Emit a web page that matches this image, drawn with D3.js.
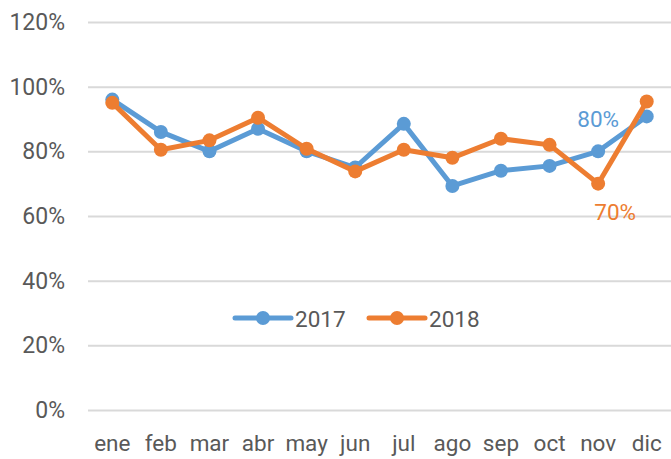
<!DOCTYPE html>
<html>
<head>
<meta charset="utf-8">
<script src="https://cdn.jsdelivr.net/npm/d3@7"></script>
<style>
  body { margin: 0; background: #fff; }
  text { font-family: Roboto, sans-serif; fill: #595959; }
</style>
</head>
<body>
<div id="chart"></div>
<script>
var months = ["ene", "feb", "mar", "abr", "may", "jun", "jul", "ago", "sep", "oct", "nov", "dic"];
var values2017 = [96, 86, 80, 87, 80, 75, 88.5, 69.3, 74, 75.5, 80, 90.8];
var values2018 = [95, 80.5, 83.4, 90.4, 80.8, 73.8, 80.5, 78, 83.9, 82, 70, 95.4];
var yTicks = [0, 20, 40, 60, 80, 100, 120];
var seriesNames = ["2017", "2018"];
var colors = ["#5B9BD5", "#ED7D31"];

var width = 671, height = 459;
var margin = { top: 22, right: 0, bottom: 49, left: 88 };

var svg = d3.select("#chart").append("svg")
    .attr("width", width).attr("height", height);

var x = d3.scaleBand().domain(months)
    .range([margin.left, width - margin.right]);

var y = d3.scaleLinear().domain([0, 120])
    .range([height - margin.bottom, margin.top]);

// gridlines + y labels
var yAxis = d3.axisLeft(y).tickValues(yTicks)
    .tickSize(-(width - margin.left - margin.right))
    .tickPadding(23)
    .tickFormat(function(d) { return d + "%"; });

svg.append("g").attr("transform", "translate(" + margin.left + ",0)")
    .call(yAxis)
    .call(function(g) { g.select(".domain").remove(); })
    .call(function(g) {
        g.selectAll("line").attr("stroke", "#D9D9D9").attr("stroke-width", 2);
        g.selectAll("text").style("font-size", "23px").attr("fill", "#595959");
    });

// x labels
svg.append("g").selectAll("text").data(months).enter().append("text")
    .attr("x", function(d) { return x(d) + x.bandwidth() / 2; })
    .attr("y", 451)
    .attr("text-anchor", "middle")
    .style("font-size", "22.5px")
    .text(function(d) { return d; });

var line = d3.line()
    .x(function(d, i) { return x(months[i]) + x.bandwidth() / 2; })
    .y(function(d) { return y(d); });

[values2017, values2018].forEach(function(vals, s) {
    svg.append("path").datum(vals)
        .attr("fill", "none")
        .attr("stroke", colors[s])
        .attr("stroke-width", 5)
        .attr("stroke-linejoin", "round")
        .attr("d", line);
    svg.append("g").selectAll("circle").data(vals).enter().append("circle")
        .attr("cx", function(d, i) { return x(months[i]) + x.bandwidth() / 2; })
        .attr("cy", function(d) { return y(d); })
        .attr("r", 7)
        .attr("fill", colors[s]);
});

// data labels on nov
var nov = x("nov") + x.bandwidth() / 2;
svg.append("text")
    .attr("x", nov).attr("y", y(values2017[10]) - 24)
    .attr("text-anchor", "middle")
    .style("font-size", "22.5px").style("fill", colors[0])
    .text(Math.round(values2017[10]) + "%");
svg.append("text")
    .attr("x", nov + 17).attr("y", y(values2018[10]) + 36)
    .attr("text-anchor", "middle")
    .style("font-size", "22.5px").style("fill", colors[1])
    .text(Math.round(values2018[10]) + "%");

// legend
var legend = svg.append("g");
var legendX = [235, 369];
seriesNames.forEach(function(name, i) {
    var g = legend.append("g").attr("transform", "translate(" + legendX[i] + ",318)");
    g.append("line").attr("x1", 0).attr("x2", 56).attr("y1", 0).attr("y2", 0)
        .attr("stroke", colors[i]).attr("stroke-width", 5).attr("stroke-linecap", "round");
    g.append("circle").attr("cx", 28).attr("cy", 0).attr("r", 7).attr("fill", colors[i]);
    g.append("text").attr("x", 60).attr("y", 8.5)
        .style("font-size", "22.5px").text(name);
});
</script>
</body>
</html>
